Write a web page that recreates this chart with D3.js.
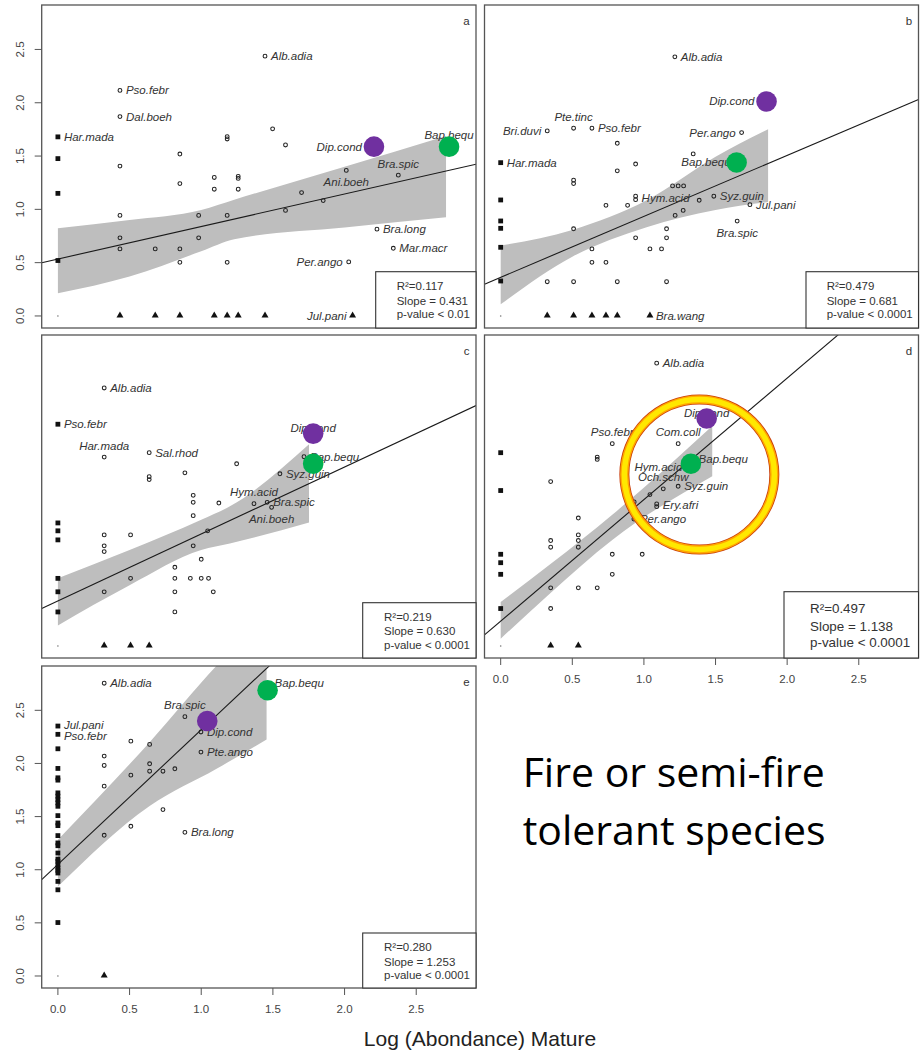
<!DOCTYPE html>
<html><head><meta charset="utf-8">
<script src="https://cdn.jsdelivr.net/npm/d3@7"></script>
<style>body{margin:0;background:#fff} svg{display:block}</style>
</head><body><svg id="chart" width="922" height="1052"></svg>
<script>
// ---------------- DATA ----------------
const axisDomain = [-0.113, 2.917];
const tickValues = [0, 0.5, 1, 1.5, 2, 2.5];
const tickLabels = ["0.0", "0.5", "1.0", "1.5", "2.0", "2.5"];

const panelIds = ["a", "b", "c", "d", "e"];
const r2Text = ["R\u00B2=0.117", "R\u00B2=0.479", "R\u00B2=0.219", "R\u00B2=0.497", "R\u00B2=0.280"];
const slopeText = ["Slope = 0.431", "Slope = 0.681", "Slope = 0.630", "Slope = 1.138", "Slope = 1.253"];
const pText = ["p-value < 0.01", "p-value < 0.0001", "p-value < 0.0001", "p-value < 0.0001", "p-value < 0.0001"];
const fitIntercept = [0.534, 0.362, 0.423, 0.233, 1.05];
const fitSlope = [0.305, 0.572, 0.628, 1.14, 1.267];

// confidence bands
const bandX_a = [0, 0.5, 1.0, 1.23, 2.0, 2.708];
const bandHi_a = [0.823, 0.90, 0.994, 1.09, 1.40, 1.689];
const bandLo_a = [0.213, 0.369, 0.607, 0.72, 0.83, 0.926];
const bandX_b = [0, 0.5, 1.019, 1.5, 1.867];
const bandHi_b = [0.66, 0.807, 1.085, 1.494, 1.752];
const bandLo_b = [0.11, 0.556, 0.833, 0.994, 1.069];
const bandX_c = [0, 0.5, 1.0, 1.2, 1.752];
const bandHi_c = [0.634, 0.9, 1.184, 1.31, 1.892];
const bandLo_c = [0.193, 0.57, 0.9, 0.96, 1.159];
const bandX_d = [0, 0.35, 0.779, 1.477];
const bandHi_d = [0.413, 0.77, 1.231, 2.064];
const bandLo_d = [0.068, 0.5, 0.995, 1.592];
const bandX_e = [0, 0.64, 1.107, 1.456];
const bandHi_e = [1.283, 2.2, 2.92, 3.4];
const bandLo_e = [0.842, 1.6, 1.95, 2.226];

// open circles [x, y]
const circles_a = [[0.433,2.116],[0.433,1.87],[0.433,1.406],[0.433,0.943],[0.433,0.733],[0.433,0.629],
  [0.679,0.629],[0.851,1.519],[0.851,1.242],[0.851,0.629],[0.851,0.503],[0.982,0.943],[0.982,0.733],
  [1.091,1.299],[1.091,1.189],[1.181,1.682],[1.181,1.66],[1.181,0.943],[1.181,0.503],
  [1.258,1.31],[1.258,1.29],[1.258,1.189],[1.445,2.437],[1.498,1.755],[1.588,1.604],
  [1.70,1.157],[1.588,0.99],[1.851,1.082],[2.012,1.365],[2.375,1.321],[2.226,0.814],
  [2.34,0.635],[2.029,0.507],[2.205,1.588],[2.729,1.588]];
const circles_b = [[0.325,1.736],[0.509,1.761],[0.637,1.761],[0.509,1.274],[0.509,1.242],[0.509,0.818],
  [0.509,0.321],[0.325,0.321],[0.637,0.629],[0.637,0.503],[0.735,0.503],[0.735,1.038],[0.814,1.62],
  [0.814,1.361],[0.814,0.321],[0.886,1.038],[0.942,1.425],[0.942,1.123],[0.942,1.091],[0.942,0.733],
  [1.042,0.629],[1.123,0.629],[1.158,0.818],[1.158,0.733],[1.158,0.321],[1.218,0.943],[1.274,0.99],
  [1.2,1.22],[1.239,1.22],[1.277,1.22],[1.386,1.085],[1.344,1.52],[1.216,2.431],[1.682,1.72],
  [1.488,1.123],[1.74,1.044],[1.651,0.89],[1.647,1.44],[1.856,2.012]];
const circles_c = [[0.323,2.42],[0.323,1.772],[0.323,1.042],[0.323,0.939],[0.323,0.885],[0.323,0.508],
  [0.507,1.042],[0.507,0.634],[0.637,1.813],[0.637,1.588],[0.637,1.561],[0.886,1.624],[0.944,1.413],
  [0.944,1.347],[0.944,1.222],[0.944,0.939],[1.123,1.341],[1.247,1.709],[1.045,1.08],[1.0,0.813],
  [0.816,0.738],[0.816,0.634],[0.924,0.634],[1.0,0.634],[1.051,0.634],[1.084,0.508],[0.816,0.508],
  [0.816,0.319],[1.368,1.335],[1.46,1.347],[1.491,1.3],[1.549,1.615],[1.717,1.775],[1.781,1.992]];
const circles_d = [[1.089,2.653],[0.779,1.898],[0.674,1.772],[0.674,1.75],[0.349,1.542],[0.349,0.989],
  [0.349,0.926],[0.349,0.545],[0.349,0.351],[0.542,1.2],[0.542,1.042],[0.542,0.989],[0.542,0.926],
  [0.542,0.545],[0.674,0.545],[0.779,0.86],[0.779,0.672],[0.988,0.86],[1.239,1.898],[1.042,1.42],
  [1.135,1.474],[1.239,1.498],[0.932,1.351],[1.089,1.332],[1.089,1.307],[0.93,1.19],[1.31,1.68],
  [1.34,1.75],[1.438,2.134]];
const circles_e = [[0.323,2.755],[0.323,2.069],[0.323,1.981],[0.323,1.786],[0.323,1.324],[0.509,2.21],
  [0.509,1.89],[0.509,1.409],[0.64,2.179],[0.64,1.997],[0.64,1.927],[0.733,1.927],[0.816,1.95],
  [0.733,1.566],[0.886,2.44],[0.998,2.296],[0.998,2.107],[0.886,1.352],[1.463,2.689]];

// filled squares (x = 0), y values
const squares_a = [1.68, 1.476, 1.15, 0.52];
const squares_b = [1.438, 1.088, 0.891, 0.822, 0.644, 0.328];
const squares_c = [2.08, 1.154, 1.08, 0.995, 0.634, 0.508, 0.319];
const squares_d = [1.813, 1.458, 0.86, 0.781, 0.672, 0.351];
const squares_e = [2.352, 2.274, 2.138, 1.953, 1.865, 1.843, 1.723, 1.692, 1.66, 1.629, 1.597, 1.509,
  1.44, 1.415, 1.321, 1.252, 1.226, 1.157, 1.1, 1.079, 1.047, 1.016, 0.994, 0.969, 0.89, 0.811, 0.503];

// filled triangles (y = 0), x values
const triangles_a = [0.433, 0.679, 0.851, 1.091, 1.181, 1.258, 1.445, 2.056];
const triangles_b = [0.325, 0.509, 0.637, 0.735, 0.814, 1.042];
const triangles_c = [0.323, 0.507, 0.637];
const triangles_d = [0.349, 0.542];
const triangles_e = [0.323];

// species labels [name, x, y, side]
const labels_a = [["Har.mada",0,1.68,"r"],["Pso.febr",0.433,2.116,"r"],["Dal.boeh",0.433,1.87,"r"],
  ["Alb.adia",1.445,2.437,"r"],["Dip.cond",2.205,1.588,"L"],["Bap.bequ",2.729,1.588,"t"],
  ["Ani.boeh",2.012,1.365,"b"],["Bra.spic",2.375,1.321,"t"],["Bra.long",2.226,0.814,"r"],
  ["Mar.macr",2.34,0.635,"r"],["Per.ango",2.029,0.507,"l"],["Jul.pani",2.056,0,"l"]];
const labels_b = [["Har.mada",0,1.438,"r"],["Bri.duvi",0.325,1.736,"l"],["Pte.tinc",0.509,1.761,"t"],
  ["Pso.febr",0.637,1.761,"r"],["Alb.adia",1.216,2.431,"r"],["Dip.cond",1.856,2.012,"L"],
  ["Per.ango",1.682,1.72,"l"],["Bap.bequ",1.647,1.44,"l"],["Hym.acid",0.942,1.107,"r"],
  ["Syz.guin",1.488,1.123,"r"],["Jul.pani",1.74,1.044,"r"],["Bra.spic",1.651,0.89,"b"],
  ["Bra.wang",1.042,0,"r"]];
const labels_c = [["Alb.adia",0.323,2.42,"r"],["Pso.febr",0,2.08,"r"],["Har.mada",0.323,1.772,"t"],
  ["Sal.rhod",0.637,1.813,"r"],["Hym.acid",1.368,1.335,"t"],["Bra.spic",1.46,1.347,"r"],
  ["Ani.boeh",1.491,1.3,"b"],["Syz.guin",1.549,1.615,"r"],["Bap.bequ",1.717,1.775,"r"],
  ["Dip.cond",1.781,1.992,"c"]];
const labels_d = [["Alb.adia",1.089,2.653,"r"],["Pso.febr",0.779,1.898,"t"],["Com.coll",1.239,1.898,"t"],
  ["Hym.acid",1.31,1.68,"l"],["Bap.bequ",1.34,1.75,"r"],["Och.schw",1.135,1.474,"t"],
  ["Syz.guin",1.239,1.498,"r"],["Ery.afri",1.089,1.32,"r"],["Per.ango",0.93,1.19,"r"],
  ["Dip.cond",1.438,2.134,"c"]];
const labels_e = [["Alb.adia",0.323,2.755,"r"],["Jul.pani",0,2.352,"u"],["Pso.febr",0,2.274,"d"],
  ["Bra.spic",0.886,2.44,"t"],["Dip.cond",0.998,2.296,"r"],["Pte.ango",0.998,2.107,"r"],
  ["Bra.long",0.886,1.352,"r"],["Bap.bequ",1.463,2.689,"R"]];

// highlighted species
const purplePts = [[2.205,1.588],[1.856,2.012],[1.781,1.992],[1.438,2.134],[1.042,2.4]];
const greenPts = [[2.729,1.588],[1.647,1.44],[1.781,1.709],[1.328,1.709],[1.463,2.689]];
const ringCenter_d = [1.387, 1.608];

const xTitle = "Log (Abondance) Mature";
const noteLines = ["Fire or semi-fire", "tolerant species"];

// ---------------- LAYOUT ----------------
const layout = {
  a:{l:41.7,r:476,t:5,b:328,yAxis:true,xAxis:false,boxW:100.3,boxH:56.3,fs:11.5,sdx:21,lines:[18.5,33,46.5]},
  b:{l:484.5,r:918.5,t:5,b:328,yAxis:false,xAxis:false,boxW:112.5,boxH:56.3,fs:11.5,sdx:20.7,lines:[18.5,33,46.5]},
  c:{l:41.7,r:476,t:335,b:658,yAxis:false,xAxis:false,boxW:113.3,boxH:55.3,fs:11.5,sdx:21.3,lines:[18,32.5,46]},
  d:{l:484.5,r:918.5,t:335,b:658,yAxis:false,xAxis:true,boxW:134.5,boxH:66.3,fs:13.4,sdx:26,lines:[21,39,55.7]},
  e:{l:41.7,r:476,t:666,b:988,yAxis:true,xAxis:true,boxW:113.3,boxH:55,fs:11.5,sdx:21.3,lines:[18,32.5,46]}
};
const dataByPanel = {
  a:{bx:bandX_a,bh:bandHi_a,bl:bandLo_a,ci:circles_a,sq:squares_a,tr:triangles_a,lb:labels_a},
  b:{bx:bandX_b,bh:bandHi_b,bl:bandLo_b,ci:circles_b,sq:squares_b,tr:triangles_b,lb:labels_b},
  c:{bx:bandX_c,bh:bandHi_c,bl:bandLo_c,ci:circles_c,sq:squares_c,tr:triangles_c,lb:labels_c},
  d:{bx:bandX_d,bh:bandHi_d,bl:bandLo_d,ci:circles_d,sq:squares_d,tr:triangles_d,lb:labels_d},
  e:{bx:bandX_e,bh:bandHi_e,bl:bandLo_e,ci:circles_e,sq:squares_e,tr:triangles_e,lb:labels_e}
};
const labelPlace = {
  r:{dx:6,dy:4,a:"start"}, l:{dx:-6,dy:4,a:"end"}, L:{dx:-12,dy:4,a:"end"},
  t:{dx:0,dy:-7.5,a:"middle"}, b:{dx:0,dy:15.5,a:"middle"}, c:{dx:0,dy:-1.5,a:"middle"},
  R:{dx:7,dy:-3,a:"start"}, u:{dx:6,dy:2.5,a:"start"}, d:{dx:6,dy:6,a:"start"}
};

const FONT = "'Liberation Sans', Arial, Helvetica, sans-serif";
const svg = d3.select("#chart");
svg.append("rect").attr("width",922).attr("height",1052).attr("fill","#fff");
const defs = svg.append("defs");

panelIds.forEach((id, i) => {
  const L = layout[id], D = dataByPanel[id];
  const x = d3.scaleLinear().domain(axisDomain).range([L.l, L.r]);
  const y = d3.scaleLinear().domain(axisDomain).range([L.b, L.t]);
  const g = svg.append("g");
  defs.append("clipPath").attr("id","clip-"+id).append("rect")
    .attr("x",L.l).attr("y",L.t).attr("width",L.r-L.l).attr("height",L.b-L.t);
  const clipped = g.append("g").attr("clip-path","url(#clip-"+id+")");

  // band
  const bandPts = D.bx.map((v,k)=>({x:v,lo:D.bl[k],hi:D.bh[k]}));
  clipped.append("path").datum(bandPts)
    .attr("d", d3.area().x(d=>x(d.x)).y0(d=>y(d.lo)).y1(d=>y(d.hi)).curve(d3.curveMonotoneX))
    .attr("fill","#bebebe");
  // fit line
  const lineData = axisDomain.map(v=>({x:v,y:fitIntercept[i]+fitSlope[i]*v}));
  clipped.append("path").datum(lineData)
    .attr("d", d3.line().x(d=>x(d.x)).y(d=>y(d.y)))
    .attr("stroke","#1a1a1a").attr("stroke-width",1.1).attr("fill","none");

  // zero dot
  g.append("circle").attr("cx",x(0)).attr("cy",y(0)).attr("r",0.8).attr("fill","#777");
  // open circles
  g.selectAll(".pt").data(D.ci).join("circle")
    .attr("cx",d=>x(d[0])).attr("cy",d=>y(d[1])).attr("r",1.9)
    .attr("fill","none").attr("stroke","#222").attr("stroke-width",1.05);
  // squares
  g.selectAll(".sq").data(D.sq).join("rect")
    .attr("x",d=>x(0)-2.4).attr("y",d=>y(d)-2.4).attr("width",4.8).attr("height",4.8).attr("fill","#111");
  // triangles
  const tri = d3.symbol().type(d3.symbolTriangle).size(21);
  g.selectAll(".tr").data(D.tr).join("path")
    .attr("d",tri).attr("transform",d=>`translate(${x(d)},${y(0)-0.5})`).attr("fill","#111");

  // labels
  g.selectAll(".lb").data(D.lb).join("text")
    .attr("x",d=>x(d[1])+labelPlace[d[3]].dx).attr("y",d=>y(d[2])+labelPlace[d[3]].dy)
    .attr("text-anchor",d=>labelPlace[d[3]].a)
    .attr("font-family",FONT).attr("font-style","italic").attr("font-size",11.5).attr("fill","#333")
    .text(d=>d[0]);

  // highlighted species
  g.append("circle").attr("cx",x(purplePts[i][0])).attr("cy",y(purplePts[i][1])).attr("r",10.3).attr("fill","#7030A0");
  g.append("circle").attr("cx",x(greenPts[i][0])).attr("cy",y(greenPts[i][1])).attr("r",10.3).attr("fill","#00B050");

  if (id === "d") {
    const cx = x(ringCenter_d[0]), cy = y(ringCenter_d[1]);
    g.append("circle").attr("cx",cx).attr("cy",cy).attr("r",75).attr("fill","none").attr("stroke","#C83C0A").attr("stroke-width",10);
    g.append("circle").attr("cx",cx).attr("cy",cy).attr("r",75).attr("fill","none").attr("stroke","#FFA500").attr("stroke-width",8.4);
    g.append("circle").attr("cx",cx).attr("cy",cy).attr("r",75).attr("fill","none").attr("stroke","#FFE800").attr("stroke-width",5.5);
  }

  // frame
  g.append("rect").attr("x",L.l).attr("y",L.t).attr("width",L.r-L.l).attr("height",L.b-L.t)
    .attr("fill","none").attr("stroke","#555").attr("stroke-width",1.3);

  // stats box
  const bx = L.r - L.boxW, by = L.b - L.boxH;
  g.append("rect").attr("x",bx).attr("y",by).attr("width",L.boxW).attr("height",L.boxH)
    .attr("fill","#fff").attr("stroke","#333").attr("stroke-width",1.1);
  [r2Text[i], slopeText[i], pText[i]].forEach((t,k)=>{
    g.append("text").attr("x",bx+L.sdx).attr("y",by+L.lines[k])
      .attr("font-family",FONT).attr("font-size",L.fs).attr("fill","#333").text(t);
  });

  // panel letter
  g.append("text").attr("x",L.r-9.5).attr("y",L.t+20).attr("text-anchor","middle")
    .attr("font-family",FONT).attr("font-size",11.5).attr("fill","#333").text(id);

  // axes
  if (L.yAxis) {
    tickValues.forEach((v,k)=>{
      g.append("line").attr("x1",L.l).attr("x2",L.l-7).attr("y1",y(v)).attr("y2",y(v)).attr("stroke","#555").attr("stroke-width",1);
      g.append("text").attr("transform",`translate(${L.l-17.5},${y(v)}) rotate(-90)`).attr("text-anchor","middle")
        .attr("font-family",FONT).attr("font-size",11.5).attr("fill","#444").text(tickLabels[k]);
    });
  }
  if (L.xAxis) {
    tickValues.forEach((v,k)=>{
      g.append("line").attr("x1",x(v)).attr("x2",x(v)).attr("y1",L.b).attr("y2",L.b+7).attr("stroke","#555").attr("stroke-width",1);
      g.append("text").attr("x",x(v)).attr("y",L.b+25).attr("text-anchor","middle")
        .attr("font-family",FONT).attr("font-size",11.5).attr("fill","#444").text(tickLabels[k]);
    });
  }
});

// axis title
svg.append("text").attr("x",480).attr("y",1046).attr("text-anchor","middle")
  .attr("font-family",FONT).attr("font-size",21).attr("fill","#222").text(xTitle);

// annotation
noteLines.forEach((t,k)=>{
  svg.append("text").attr("x",522.7).attr("y",786.7 + k*58.3)
    .attr("font-family","'Open Sans', 'Noto Sans', sans-serif").attr("font-size",41).attr("fill","#000").text(t);
});
</script></body></html>
